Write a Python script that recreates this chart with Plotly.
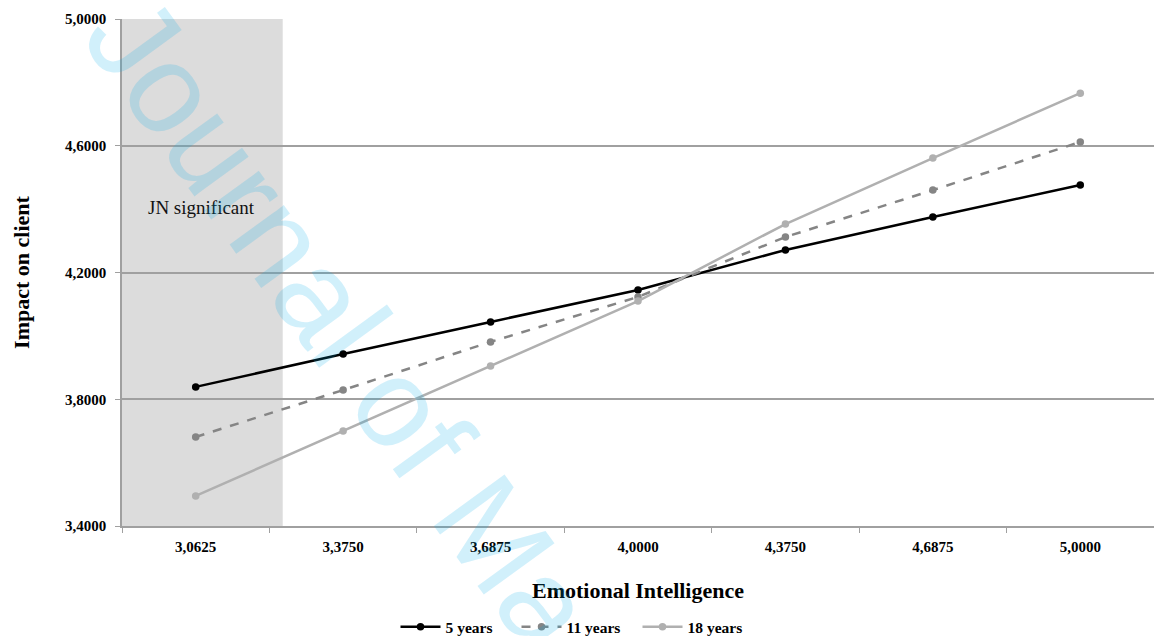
import plotly.graph_objects as go

categories = ["3,0625", "3,3750", "3,6875", "4,0000", "4,3750", "4,6875", "5,0000"]
y_5_years = [3.839, 3.943, 4.044, 4.145, 4.271, 4.375, 4.476]
y_11_years = [3.681, 3.829, 3.981, 4.123, 4.312, 4.460, 4.612]
y_18_years = [3.495, 3.700, 3.905, 4.110, 4.353, 4.561, 4.766]
series_names = ["5 years", "11 years", "18 years"]
y_tickvals = [3.4, 3.8, 4.2, 4.6, 5.0]
y_ticktext = ["3,4000", "3,8000", "4,2000", "4,6000", "5,0000"]
jn_region_end = 0.59  # category-index position where the JN significant region ends

serif = "Liberation Serif, Times New Roman, serif"

fig = go.Figure()

styles = [
    dict(color="#000000", dash="solid"),
    dict(color="#858585", dash="dash"),
    dict(color="#b0b0b0", dash="solid"),
]
for name, ys, st in zip(series_names, [y_5_years, y_11_years, y_18_years], styles):
    fig.add_trace(go.Scatter(
        x=categories, y=ys, name=name, mode="lines+markers",
        line=dict(color=st["color"], width=2.5, dash=st["dash"]),
        marker=dict(color=st["color"], size=7.5),
    ))

fig.add_shape(type="rect", xref="x", yref="paper", x0=-0.5, x1=jn_region_end,
              y0=0, y1=1, fillcolor="#dcdcdc", line_width=0, layer="below")

fig.add_annotation(x=0.04, y=4.404, xref="x", yref="y", text="JN significant",
                   showarrow=False, font=dict(family=serif, size=19, color="#111111"))

# watermark
fig.add_annotation(x=0.212, y=0.40, xref="paper", yref="paper", text="Journal of Ma",
                   showarrow=False, textangle=54, xanchor="center", yanchor="middle",
                   font=dict(family="Liberation Sans, Arial, sans-serif", size=127,
                             color="rgba(0,170,235,0.18)"))

fig.update_layout(
    width=1154, height=636,
    margin=dict(l=122, r=0, t=19, b=110),
    plot_bgcolor="white", paper_bgcolor="white",
    font=dict(family=serif, color="#000000"),
    showlegend=True,
    legend=dict(orientation="h", xref="container", yref="container",
                x=0.5, xanchor="center", y=0.014, yanchor="middle",
                font=dict(family=serif, size=15.5, weight="bold"),
                itemwidth=40, entrywidth=66, entrywidthmode="pixels",
                tracegroupgap=0, bgcolor="rgba(0,0,0,0)"),
    xaxis=dict(
        type="category", range=[-0.5, 6.5],
        showgrid=False, showline=True, linecolor="#a0a0a0", linewidth=1.5,
        ticks="outside", tickson="boundaries", ticklen=5, tickcolor="#a0a0a0",
        ticklabelstandoff=6,
        tickfont=dict(family=serif, size=15, weight="bold"),
        title=dict(text="Emotional Intelligence", standoff=29,
                   font=dict(family=serif, size=22, weight="bold")),
        fixedrange=True,
    ),
    yaxis=dict(
        range=[3.4, 5.0], tickvals=y_tickvals, ticktext=y_ticktext,
        showgrid=True, gridcolor="#a0a0a0", gridwidth=1.5,
        showline=True, linecolor="#a0a0a0", linewidth=1.5,
        ticks="outside", ticklen=5, tickcolor="#a0a0a0",
        ticklabelstandoff=6,
        tickfont=dict(family=serif, size=15, weight="bold"),
        title=dict(text="Impact on client", standoff=29,
                   font=dict(family=serif, size=22, weight="bold")),
        zeroline=False, fixedrange=True,
    ),
)

fig.write_html("out.html", config={"displayModeBar": False},
               post_script="document.body.style.margin='0';")
